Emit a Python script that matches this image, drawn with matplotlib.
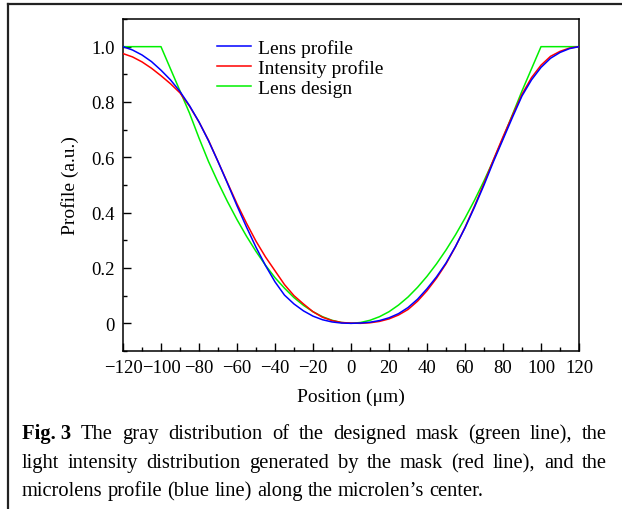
import numpy as np
import matplotlib
matplotlib.use("Agg")
import matplotlib.pyplot as plt
from matplotlib.lines import Line2D
from matplotlib.ticker import MultipleLocator, FuncFormatter

plt.rcParams['font.family'] = ['Liberation Serif', 'DejaVu Serif']
plt.rcParams['axes.unicode_minus'] = True

# positions along the lens (um), 5 um steps
position = list(range(-120, 125, 5))

lens_profile = [1.000, 0.988, 0.970, 0.946, 0.915, 0.880, 0.838, 0.787, 0.728, 0.660, 0.585,
                0.506, 0.425, 0.348, 0.275, 0.209, 0.150, 0.102, 0.070, 0.045, 0.026, 0.013,
                0.005, 0.001, 0.000,
                0.001, 0.004, 0.010, 0.020, 0.035, 0.057, 0.087, 0.125, 0.168, 0.218, 0.278,
                0.345, 0.420, 0.500, 0.585, 0.665, 0.745, 0.822, 0.880, 0.925, 0.958, 0.979,
                0.993, 1.000]

intensity_profile = [0.975, 0.963, 0.945, 0.922, 0.895, 0.866, 0.833, 0.785, 0.728, 0.662, 0.585,
                     0.508, 0.432, 0.362, 0.297, 0.240, 0.190, 0.140, 0.100, 0.070, 0.042, 0.022,
                     0.010, 0.003, 0.001,
                     0.000, 0.002, 0.007, 0.016, 0.030, 0.050, 0.080, 0.118, 0.163, 0.215, 0.277,
                     0.347, 0.424, 0.506, 0.592, 0.674, 0.752, 0.828, 0.888, 0.933, 0.965, 0.983,
                     0.995, 1.000]

lens_design = [1.0, 1.0, 1.0, 1.0, 1.0, 0.92, 0.84, 0.76, 0.67, 0.585, 0.51,
               0.44, 0.375, 0.315, 0.26, 0.21, 0.165, 0.127, 0.093, 0.065, 0.042, 0.024,
               0.011, 0.003, 0.0,
               0.003, 0.011, 0.024, 0.042, 0.066, 0.095, 0.13, 0.17, 0.215, 0.265, 0.32,
               0.38, 0.445, 0.515, 0.59, 0.67, 0.755, 0.84, 0.92, 1.0, 1.0, 1.0,
               1.0, 1.0]

series_names = ["Lens profile", "Intensity profile", "Lens design"]

caption_lines = [
    "The gray distribution of the designed mask (green line), the",
    "light intensity distribution generated by the mask (red line), and the",
    "microlens profile (blue line) along the microlen\u2019s center.",
]

fig = plt.figure(figsize=(6.22, 5.10), dpi=100)
ax = fig.add_axes([0.1977, 0.3098, 0.7332, 0.651])

ax.plot(position, lens_profile, color='#0000ff', lw=1.1, label=series_names[0], zorder=4)
ax.plot(position, intensity_profile, color='#ff0000', lw=1.1, label=series_names[1], zorder=3)
ax.plot(position, lens_design, color='#00f000', lw=1.1, label=series_names[2], zorder=2)

ax.set_xlim(-120, 120)
ax.set_ylim(-0.1, 1.1)
ax.xaxis.set_major_locator(MultipleLocator(20))
ax.xaxis.set_minor_locator(MultipleLocator(10))
ax.yaxis.set_major_locator(MultipleLocator(0.2))
ax.yaxis.set_minor_locator(MultipleLocator(0.1))
ax.yaxis.set_major_formatter(FuncFormatter(lambda v, p: "0" if abs(v) < 1e-9 else f"{v:.1f}"))
ax.xaxis.set_major_formatter(FuncFormatter(lambda v, p: f"{v:.0f}".replace("-", "\u2212")))
ax.tick_params(which='both', direction='in', labelsize=13.5, width=1.0)
ax.tick_params(which='major', length=6, pad=6)
ax.tick_params(which='minor', length=3)
for s in ax.spines.values():
    s.set_linewidth(1.1)

ax.set_xlabel("Position (\u03bcm)", fontsize=14, labelpad=8)
ax.set_ylabel("Profile (a.u.)", fontsize=14, labelpad=9)

ax.legend(loc='upper left', bbox_to_anchor=(0.207, 0.94), frameon=False, fontsize=14,
          handlelength=1.75, handletextpad=0.35, labelspacing=0.12, borderpad=0, borderaxespad=0)

# outer frame (top and left edges visible)
fig.add_artist(Line2D([8 / 622, 1.0], [1 - 5 / 510, 1 - 5 / 510], transform=fig.transFigure,
                      color='#222222', lw=1.6))
fig.add_artist(Line2D([8 / 622, 8 / 622], [0.0, 1 - 5 / 510], transform=fig.transFigure,
                      color='#222222', lw=1.6))

# justified caption
renderer = fig.canvas.get_renderer()
cap_size = 14.8
left_px, right_px = 22, 607
line_y = [432, 461, 489]


def word_width(word, weight):
    t = fig.text(0, 0, word, fontsize=cap_size, weight=weight)
    w = t.get_window_extent(renderer).width
    t.remove()
    return w


for i, line in enumerate(caption_lines):
    words = [(w, 'normal') for w in line.split(" ")]
    if i == 0:
        words = [("Fig. 3", 'bold')] + words
    widths = [word_width(w, wt) for w, wt in words]
    if i < len(caption_lines) - 1:
        gap = (right_px - left_px - sum(widths)) / (len(words) - 1)
    else:
        gap = word_width("a b", 'normal') - word_width("ab", 'normal')
    x = left_px
    for (w, wt), wd in zip(words, widths):
        fig.text(x / 622, 1 - line_y[i] / 510, w, fontsize=cap_size, weight=wt,
                 va='center_baseline', ha='left')
        x += wd + gap

fig.savefig("out.png", dpi=100)
